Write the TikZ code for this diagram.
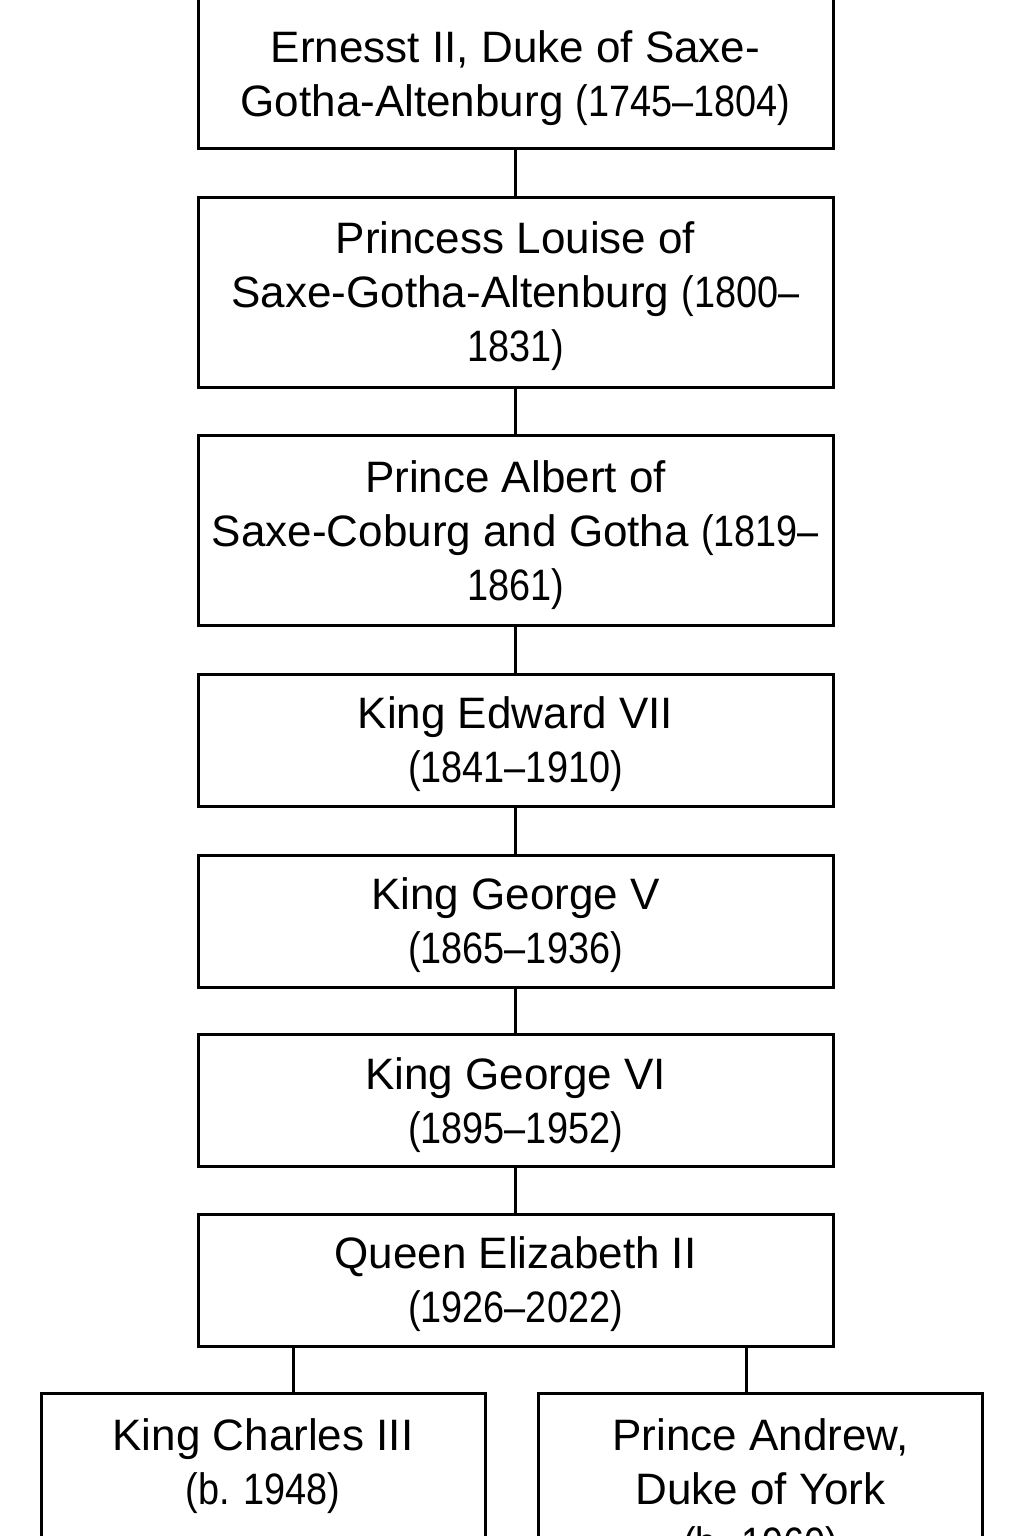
\documentclass[tikz,border=0pt]{standalone}
\usepackage{fontspec}
\setmainfont{Liberation Sans}
\newfontfamily\yrsfont[Ligatures=TeX, FakeStretch=0.86]{Liberation Sans}
\newcommand{\yrs}[1]{{\yrsfont #1}}
\usetikzlibrary{positioning}

\begin{document}
\begin{tikzpicture}[x=0.5pt, y=-0.5pt, line width=1.5pt,
  every node/.append style={align=center, draw=black, line width=1.5pt, inner sep=0pt,
    text depth=0pt, font=\fontsize{22}{27}\selectfont},
  person/.style={minimum width=317.5pt, minimum height=66pt},
  child/.style={minimum width=222pt, minimum height=96pt}]
  \useasboundingbox (0,0) rectangle (1024,1536);
  \node [person, minimum height=85pt] at (515.5,63) (ern) {\mbox{}\\Ernesst II, Duke of Saxe-\\Gotha-Altenburg \yrs{(1745--1804)}};
  \node [person, minimum height=95pt] at (515.5,292) (lou) {Princess Louise of\\Saxe-Gotha-Altenburg \yrs{(1800--}\\\yrs{1831)}};
  \node [person, minimum height=95pt] at (515.5,530.5) (alb) {Prince Albert of\\Saxe-Coburg and Gotha \yrs{(1819--}\\\yrs{1861)}};
  \node [person] at (515.5,740) (edw) {King Edward VII\\\yrs{(1841--1910)}};
  \node [person] at (515.5,921) (geoV) {King George V\\\yrs{(1865--1936)}};
  \node [person] at (515.5,1100.5) (geoVI) {King George VI\\\yrs{(1895--1952)}};
  \node [person] at (515.5,1280) (eliz) {Queen Elizabeth II\\\yrs{(1926--2022)}};
  \node [child] at (263,1489) (charles) {King Charles III\\\yrs{(b. 1948)}\\\strut};
  \node [child] at (760.5,1489) (andrew) {Prince Andrew,\\Duke of York\\\yrs{(b. 1960)}};
  \coordinate (tc) at (293,0);
  \coordinate (ta) at (746,0);
  \draw (ern.south) -- (lou.north);
  \draw (lou.south) -- (alb.north);
  \draw (alb.south) -- (edw.north);
  \draw (edw.south) -- (geoV.north);
  \draw (geoV.south) -- (geoVI.north);
  \draw (geoVI.south) -- (eliz.north);
  \draw (eliz.south -| tc) -- (tc |- charles.north);
  \draw (eliz.south -| ta) -- (ta |- andrew.north);
\end{tikzpicture}
\end{document}
